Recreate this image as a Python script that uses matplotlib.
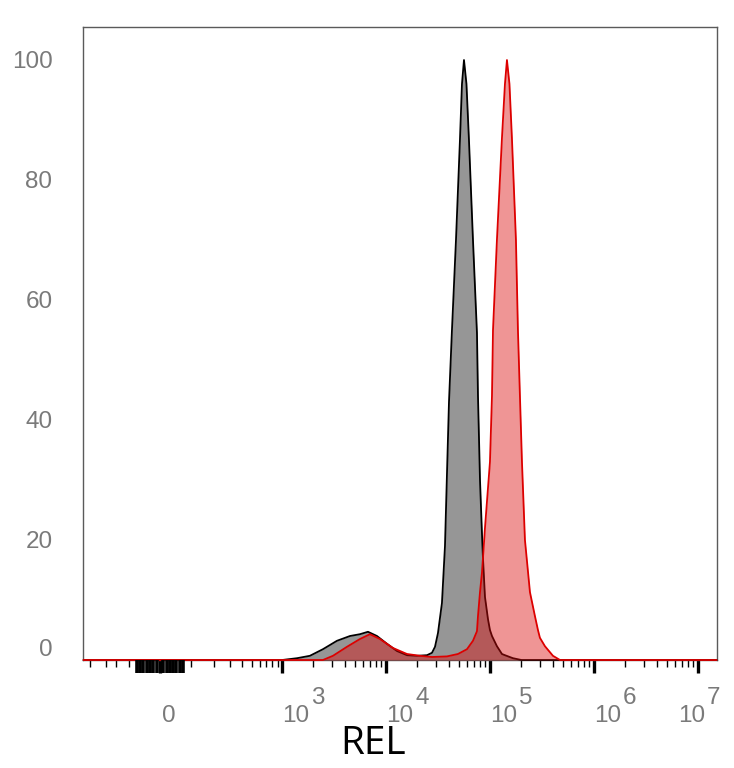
import numpy as np
import matplotlib
matplotlib.use('Agg')
from matplotlib import pyplot as plt
from matplotlib import transforms

# ---------------- histogram data (channel value, % of max) ----------------
grey_x = [-350, 1000, 1390, 1850, 2470, 3370, 4500, 5610, 6700, 8170, 10200, 12730,
          15890, 19830, 24730, 27630, 29550, 31560, 34460, 36850, 38510, 40270,
          43010, 47010, 51340, 53680, 56120, 59290, 62650, 68480, 74810, 76510,
          80000, 83600, 85440, 89320, 95480, 99740, 104300, 116400, 130100, 139000,
          165900, 200000, 1.5e7]
grey_y = [0, 0, 0.3, 0.7, 1.8, 3.2, 4.0, 4.3, 4.7, 4.0, 2.7, 1.5,
          0.8, 0.7, 0.8, 1.2, 2.2, 4.5, 9.5, 19, 31, 43,
          55, 70, 86.7, 96, 100, 96, 86.7, 70, 54.5, 44,
          30, 21, 17, 10.5, 6.8, 5.0, 4.0, 2.3, 1.0, 0.8,
          0.3, 0, 0]

red_x = [-350, 2470, 3085, 4207, 5611, 7000, 8737, 11660, 15890, 21180, 27630,
         38510, 49140, 59970, 68480, 74810, 76510, 80000, 83600, 85440, 89320,
         99740, 104300, 106700, 116400, 130100, 139000, 145300, 153600, 162200,
         177300, 185300, 193700, 202600, 216400, 241800, 270100, 288600, 301500,
         336900, 402200, 469800, 1.5e7]
red_y = [0, 0, 0.7, 2.2, 3.5, 4.3, 3.5, 2.0, 1.0, 0.7, 0.5,
         0.6, 1.0, 1.8, 3.2, 4.8, 7.3, 11.3, 14.6, 17, 22,
         33, 44, 55, 70, 87, 96, 100, 96, 87,
         70, 55, 44, 33, 20, 11.3, 7.3, 5.0, 3.7,
         2.3, 0.7, 0, 0]

major_ticks = [0, 1e3, 1e4, 1e5, 1e6, 1e7]
exponents = ['', '3', '4', '5', '6', '7']
y_ticks = [0, 20, 40, 60, 80, 100]

# dense linear ticks right around zero (drawn as a black block)
zero_ticks = [s * k for s in (-1, 1) for k in range(10, 80, 10)]
# thin minor ticks: negatives, then 2..9 per decade
minor_ticks = [-300, -200, -150, -100]
for dec in [1e2, 1e3, 1e4, 1e5, 1e6]:
    minor_ticks += [k * dec for k in range(1, 10) if not (k == 1 and dec > 1e2)]

# ---------------- biexponential-like axis ----------------
W = 134.0
XLIM = (-356, 1.52e7)


def fwd(x):
    return np.arcsinh(np.asarray(x) / W) / np.log(10)


def inv(y):
    return W * np.sinh(np.asarray(y) * np.log(10))


fig = plt.figure(figsize=(7.34, 7.68), dpi=100)
ax = fig.add_axes([83 / 734, 108 / 768, 634 / 734, 633 / 768])
ax.set_xscale('function', functions=(fwd, inv))
ax.set_xlim(*XLIM)
ax.set_ylim(0, 105.5)

ax.fill_between(grey_x, grey_y, 0, color='#969696', lw=0, zorder=2)
ax.plot(grey_x, grey_y, color='black', lw=1.3, zorder=3, clip_on=False)
ax.fill_between(red_x, red_y, 0, color=(220/255, 10/255, 10/255), alpha=0.43, lw=0, zorder=4)
ax.plot(red_x, red_y, color='#dd0000', lw=1.3, zorder=5, clip_on=False)

for side in ['left', 'right', 'top', 'bottom']:
    ax.spines[side].set_color('#5a5a5a')
    ax.spines[side].set_linewidth(1.0)

ax.set_xticks(major_ticks)
ax.set_xticks(minor_ticks, minor=True)
ax.tick_params(axis='x', which='major', direction='out', length=9, width=2.4,
               color='black', labelbottom=False)
ax.tick_params(axis='x', which='minor', direction='out', length=5, width=1.0,
               color='black')

# second x axis on the same scale only for the thick block of ticks near zero
tw = ax.twiny()
tw.set_xscale('function', functions=(fwd, inv))
tw.set_xlim(*XLIM)
tw.set_xticks(zero_ticks)
tw.set_xticks([], minor=True)
tw.tick_params(axis='x', which='major', direction='out', length=9, width=2.6,
               color='black', top=False, bottom=True, labeltop=False, labelbottom=False)
for side in ['left', 'right', 'top', 'bottom']:
    tw.spines[side].set_visible(False)

ax.set_yticks(y_ticks)
ax.set_yticklabels([str(v) for v in y_ticks], fontsize=17.5, color='#7a7a7a',
                   family='Liberation Sans')
ax.tick_params(axis='y', length=0, pad=22)
shift = transforms.ScaledTranslation(0, 13 / 100, fig.dpi_scale_trans)
first = ax.get_yticklabels()[0]
first.set_transform(first.get_transform() + shift)

# x tick labels: "0" and 10 with raised exponent
for i, (val, ex) in enumerate(zip(major_ticks, exponents)):
    if ex == '':
        ax.annotate('0', xy=(val, 0), xycoords=('data', 'axes fraction'),
                    xytext=(9, -56), textcoords='offset pixels', ha='center', va='center',
                    fontsize=17.5, color='#7a7a7a', family='Liberation Sans')
        continue
    dx = -20 if i == len(major_ticks) - 1 else 0
    ax.annotate('10', xy=(val, 0), xycoords=('data', 'axes fraction'),
                xytext=(dx, -56), textcoords='offset pixels', ha='left', va='center',
                fontsize=17.5, color='#7a7a7a', family='Liberation Sans')
    ax.annotate(ex, xy=(val, 0), xycoords=('data', 'axes fraction'),
                xytext=(dx + 29, -38), textcoords='offset pixels', ha='left', va='center',
                fontsize=17.5, color='#7a7a7a', family='Liberation Sans')

ax.set_xlabel('REL', fontsize=28, family='Open Sans', color='black', va='center')
ax.xaxis.set_label_coords(0.458, -0.1327)

fig.savefig('out.png', dpi=100)
